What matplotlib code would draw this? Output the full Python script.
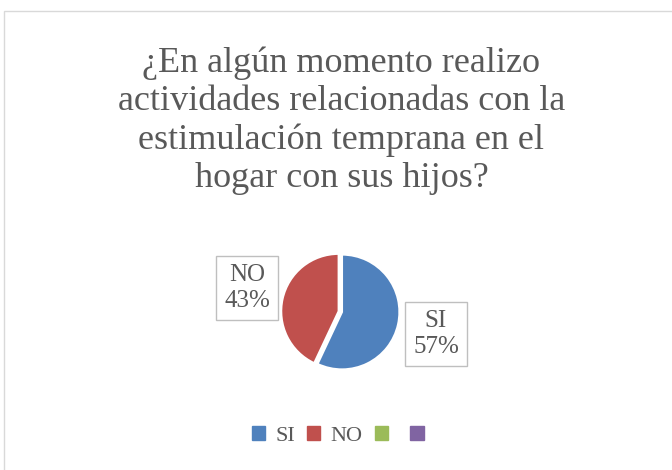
import matplotlib.pyplot as plt
from matplotlib.patches import Rectangle

# data
labels = ["SI", "NO", "", ""]
values = [57, 43, 0, 0]
colors = ["#4F81BD", "#C0504D", "#9BBB59", "#8064A2"]
title = "¿En algún momento realizo\nactividades relacionadas con la\nestimulación temprana en el\nhogar con sus hijos?"

plt.rcParams['font.family'] = ['Liberation Serif', 'DejaVu Serif']
text_col = "#595959"

fig = plt.figure(figsize=(6.72, 4.70), dpi=100)
fig.patches.append(Rectangle((4 / 672, -0.1), 1.0, 1 - 11 / 470 + 0.1, transform=fig.transFigure,
                             fill=False, edgecolor="#D9D9D9", linewidth=1))

fig.text(0.508, 1 - 121 / 470, title, ha="center", va="center", fontsize=26, color=text_col,
         linespacing=1.2)

# pie axes: center (342, 312), radius ~61 px
r = 62
cx, cy = 342, 312
ax = fig.add_axes([(cx - r) / 672, 1 - (cy + r) / 470, 2 * r / 672, 2 * r / 470])
wedges, _ = ax.pie(values[:2], colors=colors[:2], startangle=90, counterclock=False,
                   explode=[0, 0.06], wedgeprops=dict(edgecolor="white", linewidth=1.5))
ax.set_xlim(-1.08, 1.08)
ax.set_ylim(-1.08, 1.08)
ax.set_aspect("equal")

# callout labels
box = dict(boxstyle="square,pad=0.32", facecolor="white", edgecolor="#BFBFBF", linewidth=1)
fig.text(247 / 672, 1 - 288 / 470, f"{labels[1]}\n{values[1]}%", ha="center", va="center",
         fontsize=18, color=text_col, bbox=box, linespacing=1.2)
fig.text(436 / 672, 1 - 334 / 470, f"{labels[0]}\n{values[0]}%", ha="center", va="center",
         fontsize=18, color=text_col, bbox=box, linespacing=1.2)

# legend
handles = [Rectangle((0, 0), 1, 1, color=c) for c in colors]
fig.legend(handles, labels, loc="center", bbox_to_anchor=(0.51, 1 - 436 / 470), ncol=4,
           frameon=False, fontsize=16, handlelength=0.6, handleheight=0.6,
           handletextpad=0.45, columnspacing=0.55, labelcolor=text_col)

fig.savefig("out.png", dpi=100)
